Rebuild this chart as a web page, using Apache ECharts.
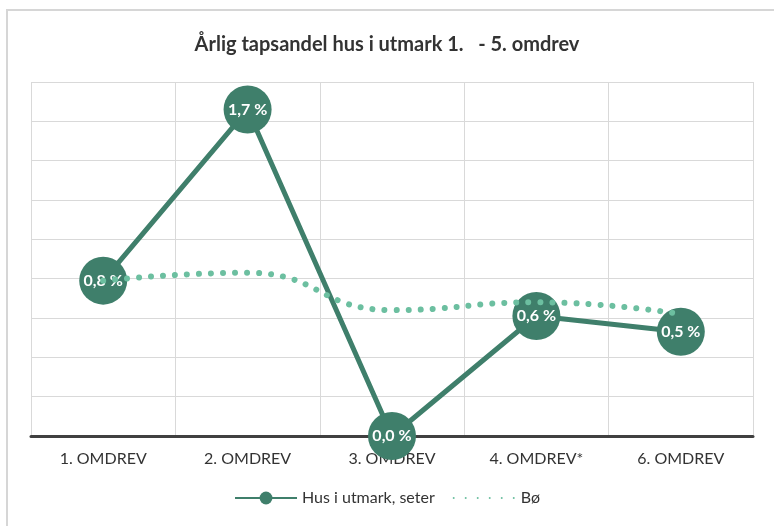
<!DOCTYPE html>
<html>
<head>
<meta charset="utf-8">
<script src="https://cdn.jsdelivr.net/npm/echarts@6/dist/echarts.min.js"></script>
<style>
  html, body { margin: 0; padding: 0; background: #fff; }
  #chart { width: 774px; height: 526px; }
</style>
</head>
<body>
<div id="chart"></div>
<script>
// Omdrev periods along the x axis
const categories = ['1. OMDREV', '2. OMDREV', '3. OMDREV', '4. OMDREV*', '6. OMDREV'];
// Annual loss share (%) for houses in outfield / summer farms
const husUtmark = [0.79, 1.66, 0.0, 0.61, 0.53];
// Annual loss share (%) for infield (Bø)
const bo = [0.79, 0.83, 0.64, 0.68, 0.62];

const chart = echarts.init(document.getElementById('chart'));
const font = 'Lato, "Open Sans", sans-serif';
const fmtPct = v => v.toFixed(1).replace('.', ',') + ' %';

chart.setOption({
  animation: false,
  backgroundColor: '#fff',
  textStyle: { fontFamily: font },
  graphic: [{
    type: 'rect',
    shape: { x: 7, y: 10, width: 800, height: 560 },
    style: { fill: 'none', stroke: '#d6d6d6', lineWidth: 2 },
    silent: true
  }],
  title: {
    text: 'Årlig tapsandel hus i utmark 1.   - 5. omdrev',
    left: 'center',
    top: 30,
    textStyle: { fontFamily: font, fontSize: 20, fontWeight: 'bold', color: '#333' }
  },
  grid: { left: 31, right: 21, top: 82, bottom: 90, containLabel: false },
  xAxis: {
    type: 'category',
    data: categories,
    boundaryGap: true,
    axisLine: { lineStyle: { color: '#404040', width: 3 } },
    axisTick: { show: false },
    axisLabel: { color: '#333', fontSize: 16, margin: 15, fontFamily: font },
    splitLine: { show: true, lineStyle: { color: '#d9d9d9', width: 1 } }
  },
  yAxis: {
    type: 'value',
    min: 0,
    max: 1.8,
    interval: 0.2,
    axisLabel: { show: false },
    axisLine: { show: false },
    axisTick: { show: false },
    splitLine: { lineStyle: { color: '#d9d9d9', width: 1 } }
  },
  legend: {
    bottom: 15,
    left: 'center',
    itemWidth: 62,
    itemHeight: 16,
    itemGap: 18,
    textStyle: { color: '#333', fontSize: 16, fontFamily: font },
    data: [
      { name: 'Hus i utmark, seter' },
      { name: 'Bø', itemStyle: { opacity: 0 } }
    ]
  },
  series: [
    {
      name: 'Hus i utmark, seter',
      type: 'line',
      data: husUtmark,
      symbol: 'circle',
      symbolSize: 48,
      z: 2,
      itemStyle: { color: '#3f7f6b' },
      lineStyle: { color: '#3f7f6b', width: 5 },
      label: {
        show: true,
        position: 'inside',
        color: '#fff',
        fontWeight: 'bold',
        fontSize: 16,
        fontFamily: font,
        formatter: p => fmtPct(p.value)
      }
    },
    {
      name: 'Bø',
      type: 'line',
      data: bo,
      smooth: 0.5,
      symbol: 'none',
      z: 3,
      itemStyle: { color: '#6cbfa0' },
      lineStyle: { color: '#6cbfa0', width: 6, type: [0.01, 12], cap: 'round' }
    }
  ]
});
</script>
</body>
</html>
